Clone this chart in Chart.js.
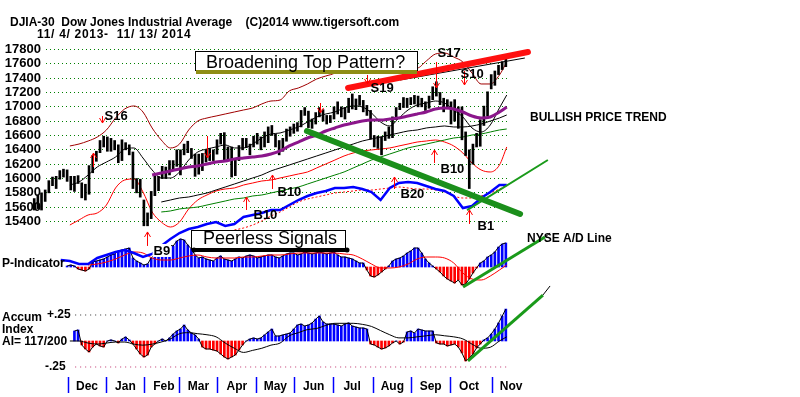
<!DOCTYPE html>
<html><head><meta charset="utf-8">
<script src="https://cdn.jsdelivr.net/npm/chart.js@4.4.1/dist/chart.umd.min.js"></script>
<style>html,body{margin:0;padding:0;background:#fff;overflow:hidden}canvas{display:block}</style>
</head><body>
<canvas id="c" width="800" height="397"></canvas>
<script>
// ---------- DATA (trading-day index 0 = 11/4/2013) ----------
const monthStartDays = [19,40,61,80,101,122,143,164,186,207,228,251];
const monthLabels = ['Dec','Jan','Feb','Mar','Apr','May','Jun','Jul','Aug','Sep','Oct','Nov'];
const priceTicks = [15400,15600,15800,16000,16200,16400,16600,16800,17000,17200,17400,17600,17800];
const accumTicks = [0.25,-0.25];
const accumTickLabels = ['+.25','-.25'];

// two-day price ranges (bar k covers days 2k and 2k+1)
const barLow = [
15560,15580,15560,15680,15800,15900,15860,15990,16020,15960,
15840,15820,15930,15730,15700,15780,16080,16240,16360,16440,
16380,16380,16400,16220,16250,16400,16330,15860,15800,15740,
15340,15340,15440,15760,15830,16000,16000,16050,16120,16170,
16050,16330,16360,16280,16030,16060,16110,16230,16250,16250,
16340,16480,16240,16250,16020,16040,16250,16400,16430,16330,
16440,16480,16400,16440,16500,16600,16440,16330,16380,16520,
16590,16630,16660,16720,16880,16710,16700,16760,16860,16800,
16760,16780,16830,16900,16860,16830,16920,16970,16960,17020,
16930,16880,16550,16440,16420,16330,16530,16560,16570,16820,
16960,16990,16990,17030,17040,17000,17000,16950,16980,17100,
17150,17030,16930,16980,16760,16800,16700,16540,16320,15860,
16200,16440,16450,16740,16870,17250,17300,17450,17520,17560];
const barHigh = [
15720,15770,15800,15840,15970,16020,16030,16110,16130,16120,
16030,16030,16040,15940,15920,16180,16320,16380,16530,16590,
16580,16560,16530,16470,16540,16500,16470,16370,16000,15990,
15700,15520,15820,16040,16030,16170,16160,16250,16250,16400,
16400,16480,16520,16420,16340,16340,16350,16400,16420,16400,
16540,16630,16640,16440,16440,16270,16460,16560,16560,16480,
16590,16630,16580,16650,16720,16740,16620,16530,16560,16690,
16720,16760,16780,16950,16990,16940,16830,16920,16990,16960,
16880,16880,17000,17070,17000,16990,17120,17180,17110,17160,
17090,17020,16950,16600,16590,16580,16650,16720,16860,16990,
17050,17130,17120,17130,17160,17150,17120,17070,17150,17280,
17350,17200,17120,17100,17070,17100,17000,17000,16650,16400,
16480,16630,16820,17010,17210,17450,17500,17580,17630,17690];

// P-Indicator (two-day steps)
const pIndicator = [
null,null,null,null,null,null,null,null,null,
1,2,1,-2,-3,-4,-2,5,6,7,
8,10,12,13,16,17,18,19,9,6,
4,2,3,9,13,17,19,20,22,21,
26,28,27,22,18,12,9,10,8,7,
6,9,11,8,7,6,8,10,9,11,
12,11,9,10,11,12,12,10,9,11,
13,14,14,12,13,15,14,13,14,15,
14,13,14,15,12,10,10,9,8,6,
4,4,-3,-9,-10,-8,-5,-2,1,6,
8,9,11,14,16,19,19,14,8,4,
1,-2,-5,-9,-12,-14,-16,-13,-18,-17,
-12,-6,-1,4,6,10,12,15,20,23,24];

// Accumulation Index (two-day steps)
const accumIndex = [
null,null,null,null,null,null,null,null,null,null,null,
0.096,0.106,-0.038,-0.077,-0.106,-0.058,-0.029,-0.048,-0.058,0,
0.010,0,-0.019,0.019,0.038,0.010,-0.029,-0.077,-0.125,-0.154,
-0.135,-0.058,-0.029,0,0.019,0,0.029,0.067,0.096,0.115,
0.154,0.106,0.077,0.058,0.019,-0.058,-0.077,-0.077,-0.087,-0.096,
-0.125,-0.154,-0.173,-0.154,-0.135,-0.087,-0.038,0,0.019,0.029,
0.019,0.029,0.058,0.087,0.115,0.048,0.048,0.058,0.067,0.077,
0.115,0.154,0.163,0.144,0.154,0.173,0.211,0.240,0.183,0.163,
0.163,0.163,0.154,0.144,0.163,0.173,0.144,0.134,0.125,0.125,
0.115,-0.029,-0.038,-0.058,-0.077,-0.067,-0.048,-0.019,0,-0.029,
-0.010,0.087,0.096,0.077,0.115,0.106,0.096,0.096,0.096,-0.019,
-0.029,-0.029,-0.048,-0.038,-0.029,-0.058,-0.115,-0.192,-0.163,-0.125,
-0.067,-0.029,0.010,0.029,0.067,0.115,0.173,0.240,0.307];

// five-day samples for the overlay lines
const sampleDays = [0,5,10,15,20,25,30,35,40,45,50,55,60,65,70,75,80,85,90,95,100,105,110,115,120,125,130,135,140,145,150,155,160,165,170,175,180,185,190,195,200,205,210,215,220,225,230,235,240,245,250,255,259];
const upperBand = [null,null,null,null,
16454,16481,16523,16579,16677,16844,16970,17012,16928,16705,
16537,16426,16481,16677,16802,16844,16872,16900,16928,16956,
16984,17040,17081,17095,17221,17263,17319,17388,17430,17472,
17570,17654,17695,17709,17695,17654,17626,17584,17542,17640,
17737,17751,17695,17626,17472,17319,17319,17444,17626];
const lowerBand = [null,null,null,null,
15351,15421,15491,15519,15630,15868,15979,15993,15812,15533,
15393,15323,15393,15575,15700,15770,15826,15854,15868,15909,
15937,15965,15979,16007,16035,16063,16091,16147,16202,16258,
16314,16356,16384,16398,16412,16426,16454,16481,16509,16523,
16537,16509,16454,16356,16216,16119,16091,16188,16440];
const ma21 = [null,null,null,null,
15909,15951,16049,16161,16230,16300,16412,16426,16286,16119,
16007,16007,16091,16258,16370,16412,16440,16468,16426,16426,
16481,16565,16621,16635,16677,16719,16788,16858,16900,16928,
16984,17012,16998,16914,16788,16733,16844,16956,17026,17053,
17081,17053,16956,16858,16705,16649,16747,16984,17165];
const ma50 = [null,null,null,null,null,null,null,null,null,null,null,null,null,
16049,
16077,16105,16133,16161,16175,16202,16230,16244,16272,16286,
16300,16314,16342,16384,16454,16509,16565,16607,16663,16705,
16747,16774,16802,16816,16816,16830,16844,16872,16900,16928,
16970,16984,16970,16928,16872,16844,16858,16928,16998];
const maSlow = [null,null,null,null,null,null,null,null,null,null,null,null,null,null,
15672,15700,15728,15742,15770,15798,15840,15881,15923,15965,
16007,16049,16105,16147,16188,16230,16272,16314,16356,16398,
16440,16481,16523,16551,16579,16607,16635,16663,16677,16705,
16719,16733,16719,16719,16733,16760,16802,16844,16886];
const maGreen = [null,null,null,null,null,null,null,null,null,null,null,null,null,null,
15533,15547,15575,15589,15602,15630,15658,15686,15714,15728,
15756,15770,15798,15826,15854,15881,15923,15965,16007,16049,
16091,16147,16202,16258,16300,16342,16384,16426,16454,16481,
16509,16537,16565,16579,16607,16621,16649,16677,16691];
const adLine = [null,null,null,
40,
39,36,36,42,45,48,50,47,43,46,
54,61,67,71,73,76,78,74,76,83,
85,87,90,90,95,100,104,107,109,112,
112,113,111,108,100,112,117,118,117,114,
111,109,104,92,94,102,108,115,115];
const adAverage = [null,null,null,null,null,null,null,null,null,null,null,null,null,null,null,null,null,null,null,null,null,null,
70,72,
75,79,84,88,93,98,101,103,105,107,
108,109,110,110,111,112,113,112,111,111,
110,108,104,102,102,104,107,111,115];
const pAverage = [null,null,null,null,null,null,
2,3,5,8,12,15,14,9,
7,7,9,11,12,10,9,9,9,10,
10,11,12,12,13,14,14,14,14,14,
13,12,8,3,-1,-1,0,3,8,10,
10,9,4,-6,-12,-13,-9,-3,2];
const accumAverage = [null,null,null,null,
0,0,-0.02,-0.03,-0.02,-0.01,-0.01,-0.03,-0.04,-0.03,
-0.01,0.02,0.07,0.08,0.07,0.06,0.04,-0.02,-0.07,-0.11,
-0.09,-0.07,-0.04,-0.02,0.05,0.08,0.11,0.12,0.15,0.17,
0.17,0.17,0.16,0.14,0.10,0.06,0.03,0.03,0.04,0.05,
0.06,0.05,0.04,0.02,-0.03,-0.07,-0.06,0,0.04];

// trend lines (day, value)
const topTrendDays = [172.2, 270.6];   const topTrendPrices = [17263, 17765];
const innerTrendDays = [200.6, 268.9]; const innerTrendPrices = [17374, 17681];
const downTrendDays = [149.7, 266.3];  const downTrendPrices = [16663, 15505];
const upTrendDays = [237.3, 281.5];    const upTrendPrices = [15560, 16258];
const pTrendDays = [235.1, 279.9, 282.7]; const pTrendValues = [-20, 30, 34];
const aTrendDays = [237.8, 278.8, 282.7]; const aTrendValues = [-0.192, 0.442, 0.529];

// Peerless signals
const signalNames  = ['S16','B9','B10','B10','S19','B20','B10','S17','S10','B1','','',''];
const signalDays   = [37.6,62.2,116.4,130.6,182.5,197.3,219.2,220.3,235.6,238.3,32.7,95,156.8];
const signalPrices = [16774,15254,15742,16049,17319,16021,16398,17263,17305,15561,16356,16286,16914];

// ---------- BUILD ----------
const FONT = '"Liberation Sans", Arial, Helvetica, sans-serif';
Chart.defaults.font.family = FONT;
const pts = (days, vals) => days.map((d, i) => ({x: d, y: vals[i]}));
const twoDay = (vals) => vals.map((v, k) => ({x: 2*k + 0.5, y: v})).filter(p => p.y !== null);
const priceBars = barLow.map((lo, k) => ({x: 2*k + 0.5, y: [lo, barHigh[k]]}));
const histColor = c => (c.raw && c.raw.y < 0) ? '#ff0000' : '#0000ff';

function ln(label, axis, data, color, width, order, extra) {
  return Object.assign({type:'line', label, yAxisID: axis, data, borderColor: color, borderWidth: width,
    pointRadius: 0, fill: false, order, clip: false, tension: 0}, extra || {});
}
const smooth = {cubicInterpolationMode: 'monotone'};

const datasets = [
  ln('top trend', 'y', pts(topTrendDays, topTrendPrices), '#ff1010', 6, 1, {borderCapStyle:'round'}),
  ln('inner trend', 'y', pts(innerTrendDays, innerTrendPrices), '#000000', 1, 1),
  ln('down trend', 'y', pts(downTrendDays, downTrendPrices), '#1b8f1b', 6, 1, {borderCapStyle:'round'}),
  ln('up trend', 'y', pts(upTrendDays, upTrendPrices), '#1a9a1a', 2, 1),
  ln('p trend', 'yP', pts(pTrendDays.slice(0,2), pTrendValues.slice(0,2)), '#1a9a1a', 3, 1),
  ln('p trend ext', 'yP', pts(pTrendDays.slice(1), pTrendValues.slice(1)), '#000000', 1, 1),
  ln('a trend', 'yA', pts(aTrendDays.slice(0,2), aTrendValues.slice(0,2)), '#1a9a1a', 3, 1),
  ln('a trend ext', 'yA', pts(aTrendDays.slice(1), aTrendValues.slice(1)), '#000000', 1, 1),
  ln('NYSE A/D', 'yAD', pts(sampleDays, adLine), '#0000ff', 2.5, 2),
  ln('ma50', 'y', pts(sampleDays, ma50), '#8b168b', 3, 3, smooth),
  {type:'bar', label:'DJIA', yAxisID:'y', data: priceBars, backgroundColor:'#000000', borderWidth:0,
   barThickness: 2, grouped:false, order:4, clip:false},
  ln('ma21', 'y', pts(sampleDays, ma21), '#000000', 1, 5, smooth),
  ln('slow', 'y', pts(sampleDays, maSlow), '#000000', 1, 5, smooth),
  ln('green', 'y', pts(sampleDays, maGreen), '#008000', 1, 5, smooth),
  ln('lower band', 'y', pts(sampleDays, lowerBand), '#ff0000', 1, 5, smooth),
  ln('upper band', 'y', pts(sampleDays, upperBand), '#a00000', 1, 5, smooth),
  ln('ad avg', 'yAD', pts(sampleDays, adAverage), '#ff0000', 1, 5, Object.assign({borderDash:[2,2]}, smooth)),
  ln('p avg', 'yP', pts(sampleDays, pAverage), '#ff0000', 1, 6, smooth),
  ln('p line', 'yP', twoDay(pIndicator), '#000000', 1, 6),
  ln('a avg', 'yA', pts(sampleDays, accumAverage), '#000000', 1, 6, smooth),
  ln('a line', 'yA', twoDay(accumIndex), '#000000', 1, 6),
  {type:'bar', label:'P-Indicator', yAxisID:'yP', data: twoDay(pIndicator), backgroundColor: histColor,
   borderWidth:0, barThickness:2, grouped:false, order:7},
  {type:'bar', label:'Accum', yAxisID:'yA', data: twoDay(accumIndex), backgroundColor: histColor,
   borderWidth:0, barThickness:2, grouped:false, order:7},
  ln('+.25', 'yA', [{x:22.9, y:accumTicks[0]}, {x:259.7, y:accumTicks[0]}], '#303030', 1, 8, {borderDash:[1,4]}),
  ln('-.25', 'yA', [{x:22.9, y:accumTicks[1]}, {x:259.7, y:accumTicks[1]}], '#c0306a', 1, 8, {borderDash:[1,4]})
];

// ---------- ANNOTATIONS ----------
const sigStyle = [ // [up?, length, textDx, textDy]
  [false,7,2,-3],[true,14,6,23],[true,13,7,22],[true,14,5,21],[false,9,3,8],[true,12,6,21],
  [true,13,6,23],[false,26,1,-31],[false,14,-4,-7],[true,14,8,20],[true,14,0,0],[false,22,0,0],[false,10,0,0]];

function arrow(ctx, x, yTip, len, up) {
  const s = up ? 1 : -1;
  ctx.beginPath();
  ctx.moveTo(x, yTip + s*len); ctx.lineTo(x, yTip);
  ctx.moveTo(x - 3, yTip + s*5); ctx.lineTo(x, yTip); ctx.lineTo(x + 3, yTip + s*5);
  ctx.stroke();
}

const annot = {
  id: 'annot',
  beforeDraw(chart) {
    const c = chart.ctx; c.save(); c.fillStyle = '#fff'; c.fillRect(0, 0, chart.width, chart.height); c.restore();
  },
  afterDatasetsDraw(chart) {
    const ctx = chart.ctx, xs = chart.scales.x, ys = chart.scales.y;
    ctx.save();
    // Broadening top box
    ctx.fillStyle = '#ffffff'; ctx.fillRect(195, 51, 222, 19);
    ctx.strokeStyle = '#000'; ctx.lineWidth = 1; ctx.strokeRect(195.5, 51.5, 222, 19);
    ctx.fillStyle = '#8e8e14'; ctx.fillRect(196, 70, 221, 4);
    ctx.fillStyle = '#000'; ctx.font = '18px ' + FONT; ctx.textBaseline = 'alphabetic';
    ctx.fillText('Broadening Top Pattern?', 206, 68);
    // Peerless signals box
    ctx.fillStyle = '#ffffff'; ctx.fillRect(191, 230, 154, 18);
    ctx.strokeStyle = '#000'; ctx.strokeRect(191.5, 230.5, 154, 18);
    ctx.fillStyle = '#000'; ctx.fillRect(193, 248, 154, 4);
    ctx.beginPath(); ctx.arc(194, 250, 2.5, 0, Math.PI*2); ctx.arc(347, 250, 2.5, 0, Math.PI*2); ctx.fill();
    ctx.fillText('Peerless Signals', 203, 244);
    // signals
    ctx.strokeStyle = '#ff0000'; ctx.lineWidth = 1;
    ctx.font = 'bold 13px ' + FONT;
    signalNames.forEach((name, i) => {
      const x = Math.round(xs.getPixelForValue(signalDays[i])) + 0.5;
      const y = ys.getPixelForValue(signalPrices[i]);
      const st = sigStyle[i];
      arrow(ctx, x, y, st[1], st[0]);
      if (name) {
        const tx = x + st[2], ty = y + st[3];
        if (name === 'B9') {
          const w = ctx.measureText(name).width;
          ctx.fillStyle = '#fff'; ctx.fillRect(tx - 1, ty - 11, w + 2, 13);
        }
        ctx.fillStyle = '#000'; ctx.fillText(name, tx, ty);
      }
    });
    ctx.restore();
  },
  afterDraw(chart) {
    const ctx = chart.ctx, yA = chart.scales.yA;
    ctx.save();
    ctx.fillStyle = '#000'; ctx.textBaseline = 'alphabetic';
    ctx.font = 'bold 12px ' + FONT;
    ctx.fillText('DJIA-30  Dow Jones Industrial Average    (C)2014 www.tigersoft.com', 10, 26);
    if ('letterSpacing' in ctx) ctx.letterSpacing = '0.7px';
    ctx.fillText('11/ 4/ 2013-  11/ 13/ 2014', 37, 38);
    if ('letterSpacing' in ctx) ctx.letterSpacing = '0px';
    ctx.fillText('BULLISH PRICE TREND', 530, 121);
    ctx.fillText('NYSE A/D Line', 527, 242);
    ctx.fillText('P-Indicator', 2, 267);
    ctx.fillText('Accum', 2, 321);
    ctx.fillText('Index', 2, 333);
    ctx.fillText('AI= 117/200', 2, 345);
    ctx.textBaseline = 'middle';
    accumTicks.forEach((v, i) => ctx.fillText(accumTickLabels[i], i === 0 ? 47 : 45, yA.getPixelForValue(v)));
    ctx.restore();
  }
};

new Chart(document.getElementById('c'), {
  type: 'line',
  data: {datasets},
  options: {
    responsive: false, animation: false, devicePixelRatio: 1,
    layout: {padding: {left: 0, right: 290, top: 20, bottom: 0}},
    plugins: {legend: {display: false}, tooltip: {enabled: false}, title: {display: false}},
    elements: {point: {radius: 0}},
    scales: {
      x: {
        type: 'linear', position: 'bottom', min: 6.947, max: 260.78, offset: false,
        afterBuildTicks: s => { s.ticks = monthStartDays.map(v => ({value: v})); },
        afterFit: s => { s.height = 20; },
        grid: {offset: false, drawOnChartArea: false, drawTicks: true, tickLength: 16, tickColor: '#0000ff', tickWidth: 1.5},
        border: {display: false},
        ticks: {autoSkip: false, maxRotation: 0, padding: -14, labelOffset: 19, color: '#000',
                font: {weight: 'bold', size: 12}, callback: (v, i) => monthLabels[i]}
      },
      y: {
        position: 'left', min: 13230.3, max: 18211.6,
        afterBuildTicks: s => { s.ticks = priceTicks.map(v => ({value: v})); },
        afterFit: s => { s.width = 46; },
        grid: {color: '#008000', drawTicks: false, lineWidth: 1},
        border: {display: false, dash: [1, 3]},
        ticks: {autoSkip: false, padding: 5, color: '#000', font: {weight: 'bold', size: 13}, callback: v => String(v)}
      },
      yP: {axis: 'y', display: false, min: -110, max: 247},
      yA: {axis: 'y', display: false, min: -0.3462, max: 3.0865},
      yAD: {axis: 'y', display: false, min: -77, max: 280}
    }
  },
  plugins: [annot]
});
</script>
</body></html>
